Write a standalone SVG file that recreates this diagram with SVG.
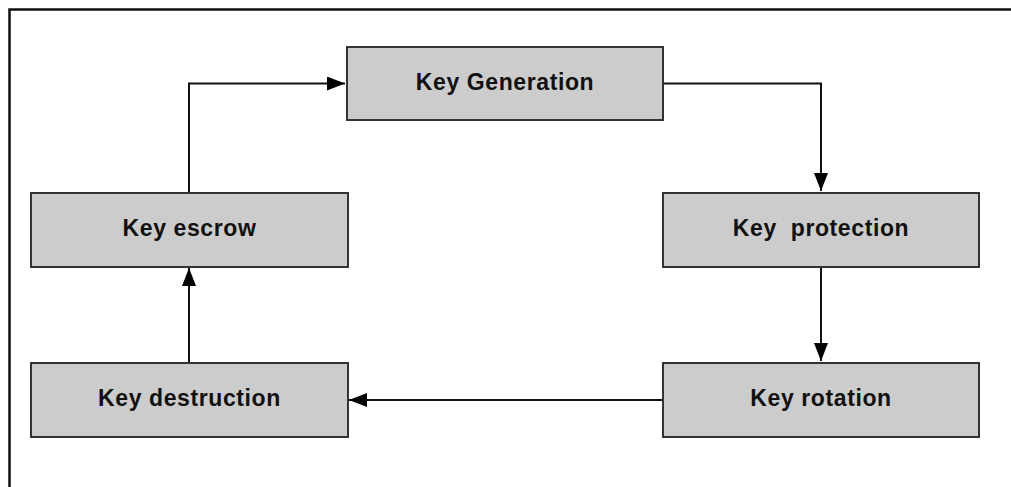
<svg xmlns="http://www.w3.org/2000/svg" width="1011" height="487" viewBox="0 0 1011 487">
  <style>
    .box { fill: #cccccc; stroke: #333333; stroke-width: 2; }
    .label { font-family: "Liberation Sans", Arial, sans-serif; font-weight: bold; font-size: 23px; letter-spacing: 0.6px; fill: #111111; text-anchor: middle; white-space: pre; }
    .conn { fill: none; stroke: #111111; stroke-width: 2; }
  </style>
  <defs>
    <marker id="arrow" viewBox="0 0 18 14" refX="18" refY="7" markerWidth="18" markerHeight="14" markerUnits="userSpaceOnUse" orient="auto">
      <path d="M0,0 L18,7 L0,14 Z" fill="#000000"/>
    </marker>
  </defs>

  <rect width="1011" height="487" fill="#ffffff"/>
  <!-- outer frame: top and left edges -->
  <path d="M9.5,487 V9.5 H1011" fill="none" stroke="#111111" stroke-width="2.5"/>

  <g id="connectors">
    <path class="conn" d="M189,193 V83.5 H345" marker-end="url(#arrow)"/>
    <path class="conn" d="M664,83.5 H821 V191" marker-end="url(#arrow)"/>
    <path class="conn" d="M821,267 V361" marker-end="url(#arrow)"/>
    <path class="conn" d="M663,400 H349" marker-end="url(#arrow)"/>
    <path class="conn" d="M189,363 V268" marker-end="url(#arrow)"/>
  </g>

  <g id="key-generation">
    <rect class="box" x="347" y="47" width="316" height="73"/>
    <text class="label" x="505" y="89.5">Key Generation</text>
  </g>
  <g id="key-protection">
    <rect class="box" x="663" y="193" width="316" height="74"/>
    <text class="label" x="821" y="236" xml:space="preserve">Key  protection</text>
  </g>
  <g id="key-rotation">
    <rect class="box" x="663" y="363" width="316" height="74"/>
    <text class="label" x="821" y="406">Key rotation</text>
  </g>
  <g id="key-destruction">
    <rect class="box" x="31" y="363" width="317" height="74"/>
    <text class="label" x="189.5" y="406">Key destruction</text>
  </g>
  <g id="key-escrow">
    <rect class="box" x="31" y="193" width="317" height="74"/>
    <text class="label" x="189.5" y="236">Key escrow</text>
  </g>
</svg>
